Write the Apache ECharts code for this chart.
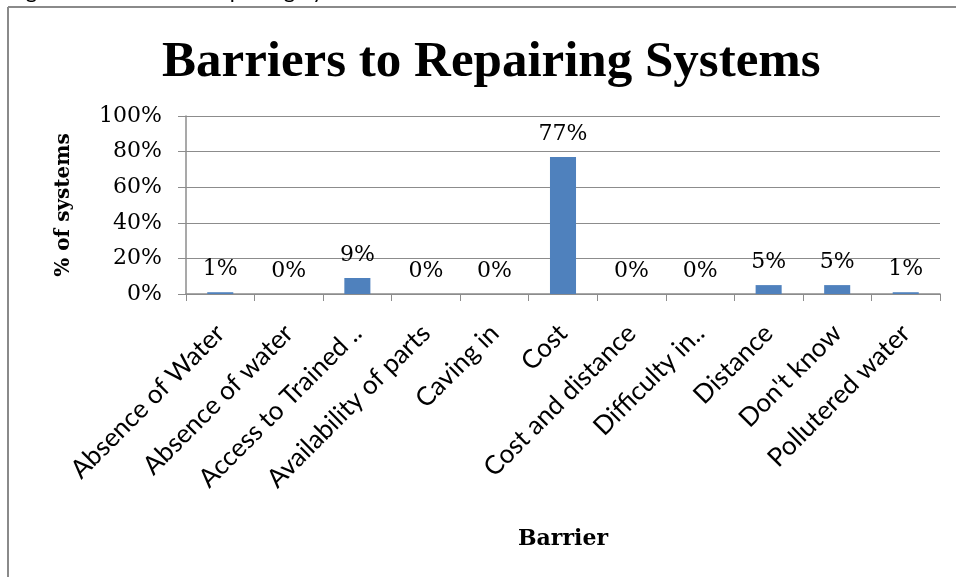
<!DOCTYPE html>
<html>
<head>
<meta charset="utf-8">
<script src="https://cdn.jsdelivr.net/npm/echarts@6/dist/echarts.min.js"></script>
<style>
  html, body { margin: 0; padding: 0; background: #ffffff; }
  #chart { width: 956px; height: 577px; }
</style>
</head>
<body>
<div id="chart"></div>
<script>
const titleText = "Barriers to Repairing Systems";
const captionText = "Figure 5: Barriers to Repairing Systems";
const categories = ["Absence of Water", "Absence of water", "Access to Trained ..", "Availability of parts", "Caving in", "Cost", "Cost and distance", "Difficulty in..", "Distance", "Don't know", "Pollutered water"];
const values = [0.01, 0, 0.09, 0, 0, 0.77, 0, 0, 0.05, 0.05, 0.01];
const yAxisName = "% of systems";
const xAxisName = "Barrier";

const chart = echarts.init(document.getElementById('chart'), null, { renderer: 'canvas' });
const serif = "'DejaVu Serif', serif";
const pct = v => Math.round(v * 100) + '%';

chart.setOption({
  animation: false,
  backgroundColor: '#ffffff',
  title: {
    text: titleText,
    left: 157,
    top: 32,
    textStyle: { fontFamily: "'Liberation Serif', serif", fontWeight: 'bold', fontSize: 51, color: '#000' }
  },
  graphic: [
    { type: 'text', left: 8, top: -20, style: { text: captionText, font: "22px Lato", fill: '#000' } },
    { type: 'line', shape: { x1: 8, y1: 7, x2: 956, y2: 7 }, style: { stroke: '#8a8a8a', lineWidth: 2 } },
    { type: 'line', shape: { x1: 8, y1: 7, x2: 8, y2: 577 }, style: { stroke: '#8a8a8a', lineWidth: 2 } }
  ],
  grid: { left: 186, right: 16, top: 116, bottom: 283, containLabel: false },
  xAxis: {
    type: 'category',
    data: categories,
    name: xAxisName,
    nameLocation: 'middle',
    nameGap: 234,
    nameTextStyle: { fontFamily: serif, fontWeight: 'bold', fontSize: 22, color: '#000' },
    axisLine: { lineStyle: { color: '#8c8c8c', width: 1.5 } },
    axisTick: { show: true, length: 7, lineStyle: { color: '#8c8c8c' } },
    axisLabel: { rotate: 45, margin: 35, interval: 0, fontFamily: "Lato, sans-serif", fontSize: 26, color: '#000' }
  },
  yAxis: {
    type: 'value',
    min: 0, max: 1, interval: 0.2,
    name: yAxisName,
    nameLocation: 'middle',
    nameGap: 112,
    nameTextStyle: { fontFamily: serif, fontWeight: 'bold', fontSize: 20, color: '#000' },
    axisLine: { show: true, lineStyle: { color: '#8c8c8c', width: 1.5 } },
    axisTick: { show: true, length: 8, lineStyle: { color: '#8c8c8c' } },
    axisLabel: { margin: 24, fontFamily: serif, fontSize: 22, color: '#000', formatter: v => pct(v) },
    splitLine: { lineStyle: { color: '#8c8c8c', width: 1.2 } }
  },
  series: [{
    type: 'bar',
    data: values,
    barWidth: '38%',
    itemStyle: { color: '#4f81bd' },
    label: { show: true, position: 'top', distance: 12, fontFamily: serif, fontSize: 22, color: '#000', formatter: p => pct(p.value) }
  }]
});
</script>
</body>
</html>
